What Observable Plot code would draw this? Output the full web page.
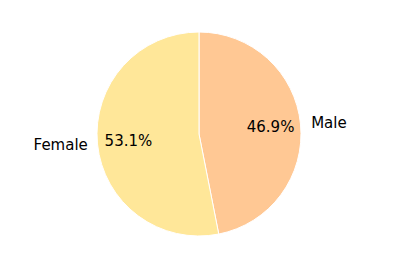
<!DOCTYPE html>
<html>
<head>
<meta charset="utf-8">
<script src="https://cdn.jsdelivr.net/npm/d3@7"></script>
<script src="https://cdn.jsdelivr.net/npm/@observablehq/plot@0.6"></script>
<style>
  html, body { margin: 0; padding: 0; background: #fff; }
  #chart { width: 399px; height: 266px; }
</style>
</head>
<body>
<div id="chart"></div>
<script>
const categories = ["Male", "Female"];
const values = [46.9, 53.1];
const colors = ["#ffc894", "#ffe799"];
const pctLabels = ["46.9%", "53.1%"];

const data = categories.map((c, i) => ({category: c, value: values[i], color: colors[i], pct: pctLabels[i]}));
const pieArcs = d3.pie().sort(null).value(d => d.value)(data);
const slices = pieArcs.map(p => {
  const mid = (p.startAngle + p.endAngle) / 2;
  return {
    ...p.data,
    startAngle: p.startAngle,
    endAngle: p.endAngle,
    lx: 1.1 * Math.sin(mid), ly: 1.1 * Math.cos(mid),
    px: 0.7 * Math.sin(mid), py: 0.7 * Math.cos(mid)
  };
});

const font = "DejaVu Sans, sans-serif";

const pieMark = (index, scales) => {
  const cx = scales.x(0), cy = scales.y(0);
  const r = scales.x(1) - scales.x(0);
  const g = d3.create("svg:g").attr("transform", `translate(${cx},${cy})`);
  g.selectAll("path").data(slices).join("path")
    .attr("d", d3.arc().innerRadius(0).outerRadius(r))
    .attr("fill", d => d.color)
    .attr("stroke", "white")
    .attr("stroke-width", 1)
    .attr("stroke-linejoin", "round");
  return g.node();
};

const plot = Plot.plot({
  width: 399,
  height: 266,
  marginLeft: 97,
  marginRight: 98,
  marginTop: 32,
  marginBottom: 30,
  x: {domain: [-1, 1], axis: null},
  y: {domain: [-1, 1], axis: null},
  style: {fontFamily: font, fontSize: "15px", background: "white"},
  marks: [
    pieMark,
    Plot.text(slices.filter(d => d.lx >= 0), {x: "lx", y: "ly", text: "category", textAnchor: "start", fill: "black", fontSize: 15, fontFamily: font}),
    Plot.text(slices.filter(d => d.lx < 0), {x: "lx", y: "ly", text: "category", textAnchor: "end", fill: "black", fontSize: 15, fontFamily: font}),
    Plot.text(slices, {x: "px", y: "py", text: "pct", fill: "black", fontSize: 15, fontFamily: font})
  ]
});
document.getElementById("chart").appendChild(plot);
</script>
</body>
</html>
